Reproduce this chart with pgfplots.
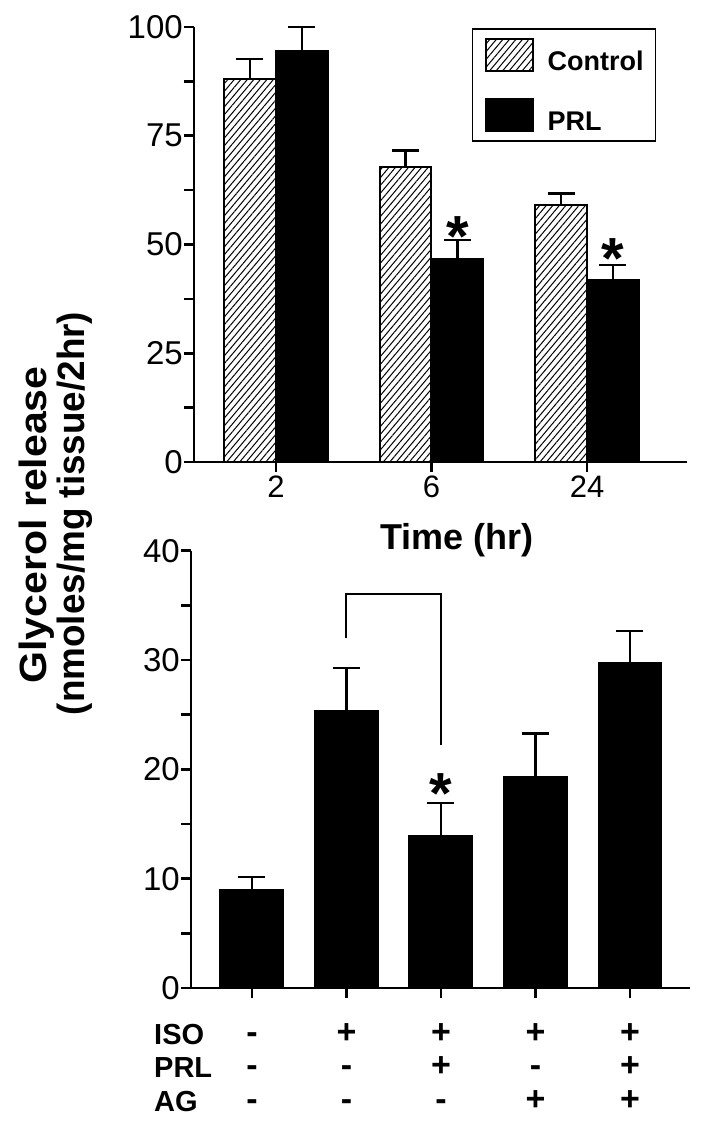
\documentclass[border=0pt]{standalone}
\usepackage{fontspec}
\setmainfont{Liberation Sans}
\usepackage{graphicx}
\usepackage{pgfplots}
\pgfplotsset{compat=1.18}
\usetikzlibrary{patterns.meta}
\begin{document}
\begin{tikzpicture}[x=1pt,y=1pt]
\path[use as bounding box] (0,0) rectangle (710,1121);
\pgfplotsset{
  common/.style={
    scale only axis, clip=false,
    axis x line*=bottom, axis y line*=left,
    axis line style={line width=2.6pt, -},
    tick align=outside,
    major tick length=10pt, minor tick length=10pt,
    every tick/.style={line width=2.6pt, black},
    minor tick style={line width=2.6pt, black},
    /pgf/number format/assume math mode=true,
    yticklabel style={font=\fontsize{33}{38}\selectfont, inner sep=1pt},
    ybar,
    error bars/y dir=plus, error bars/y explicit,
    error bars/error bar style={line width=2.2pt, black},
    error bars/error mark options={rotate=90, mark size=13.5pt, line width=2.2pt, black},
  },
}
% ---------------- top panel ----------------
\begin{axis}[common,
  at={(194pt,659pt)}, anchor=south west,
  width=493pt, height=435pt,
  xmin=-0.527, xmax=2.643, ymin=0, ymax=100,
  ytick={0,25,50,75,100}, minor ytick={12.5,37.5,62.5,87.5},
  xtick={0,1,2}, xticklabels={2,6,24},
  xticklabel style={font=\fontsize{31}{36}\selectfont},
  bar width=0.334,
  xlabel={Time (hr)},
  xlabel style={font=\bfseries\fontsize{36}{40}\selectfont, at={(axis description cs:0.533,0)}, anchor=center, yshift=-78pt},
  legend style={at={(0.564,0.997)}, anchor=north west, draw=black, line width=1.3pt,
    font=\bfseries\fontsize{27}{30}\selectfont, inner xsep=12pt, inner ysep=9pt,
    row sep=26pt, nodes={inner sep=0pt},
    /tikz/every odd column/.append style={column sep=14pt}},
  legend cell align=left,
  legend image code/.code={\draw[#1, line width=2pt] (0pt,-9.5pt) rectangle (47pt,22.5pt);},
]
\addplot[draw=black, line width=2pt, pattern={Lines[angle=50,distance=5pt,line width=1pt]}, bar shift=-0.167]
  coordinates {(0,88.1) +- (0,4.6) (1,67.8) +- (0,3.8) (2,59.0) +- (0,2.7)};
\addlegendentry{Control}
\addplot[draw=black, fill=black, line width=2pt, bar shift=0.167]
  coordinates {(0,94.5) +- (0,5.5) (1,46.7) +- (0,4.4) (2,41.9) +- (0,3.3)};
\addlegendentry{PRL}
\node[font=\bfseries\fontsize{58}{58}\selectfont, anchor=base, inner sep=0pt, yshift=-33pt] at (axis cs:1.167,54.9) {*};
\node[font=\bfseries\fontsize{58}{58}\selectfont, anchor=base, inner sep=0pt, yshift=-33pt] at (axis cs:2.167,49.7) {*};
\end{axis}
% ---------------- bottom panel ----------------
\begin{axis}[common,
  at={(191pt,133pt)}, anchor=south west,
  width=499pt, height=437.3pt,
  xmin=-0.645, xmax=4.635, ymin=0, ymax=40,
  ytick={0,10,20,30,40}, minor ytick={5,15,25,35},
  xtick={0,1,2,3,4},
  xticklabels={{\strut-\\-\\-},{\strut+\\-\\-},{\strut+\\+\\-},{\strut+\\-\\+},{\strut+\\+\\+}},
  xticklabel style={align=center, font=\bfseries\fontsize{34}{33.3}\selectfont, inner sep=0pt, yshift=-22pt},
  bar width=0.677,
]
\addplot[draw=black, fill=black, line width=1pt, bar shift=0]
  coordinates {(0,9.05) +- (0,1.09) (1,25.34) +- (0,3.9) (2,13.95) +- (0,2.95) (3,19.34) +- (0,3.93) (4,29.73) +- (0,2.92)};
\draw[line width=2pt] (axis cs:1,31.98) -- (axis cs:1,36.0) -- (axis cs:2,36.0) -- (axis cs:2,22.2);
\node[font=\bfseries\fontsize{58}{58}\selectfont, anchor=base, inner sep=0pt, yshift=-33pt] at (axis cs:2,19.0) {*};
\node[anchor=north west, align=left, font=\bfseries\fontsize{29}{33.3}\selectfont, inner sep=0pt, xshift=-37pt, yshift=-33pt] at (rel axis cs:0,0) {\strut ISO\\PRL\\AG};
\end{axis}
% ---------------- shared y label ----------------
\node[rotate=90, font=\bfseries\fontsize{38}{40}\selectfont, inner sep=0pt] at (37,596) {\scalebox{1.08}[1]{Glycerol release}};
\node[rotate=90, font=\bfseries\fontsize{38}{40}\selectfont, inner sep=0pt] at (75,607.5) {\scalebox{0.97}[1]{(nmoles/mg tissue/2hr)}};
\end{tikzpicture}
\end{document}
